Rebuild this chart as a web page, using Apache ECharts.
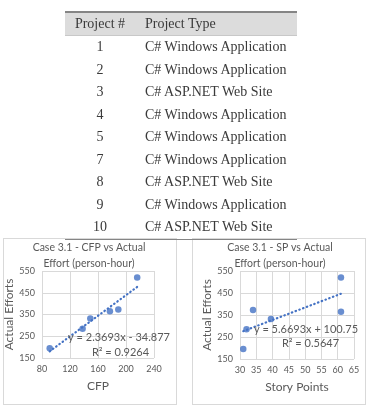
<!DOCTYPE html>
<html>
<head>
<meta charset="utf-8">
<script src="https://cdn.jsdelivr.net/npm/echarts@6/dist/echarts.min.js"></script>
<style>
  html, body { margin: 0; padding: 0; background: #fff; }
  #wrap { position: relative; width: 368px; height: 408px; overflow: hidden; }
  .box { position: absolute; top: 238px; height: 167px; border: 1px solid #d9d9d9; background: #fff; box-sizing: border-box; }
  #main { position: absolute; left: 0; top: 0; width: 368px; height: 408px; }
  #tbl { position: absolute; left: 65px; top: 11px; width: 232px; border-collapse: collapse;
         font-family: "Liberation Serif", serif; font-size: 14px; color: #3a3a3a; z-index: 2; }
  #tbl th { background: #dcdcdc; font-weight: normal; height: 22px; padding: 0; text-align: left;
            border-top: 2px solid #858585; border-bottom: 1px solid #c8c8c8; }
  #tbl td { height: 22.5px; padding: 0; }
  #tbl tr:last-child td { border-bottom: 1px solid #858585; }
  .c1 { width: 70px; text-align: center !important; }
  .c2 { padding-left: 10px !important; }
</style>
</head>
<body>
<div id="wrap">
  <div class="box" style="left:3px;width:174px;"></div>
  <div class="box" style="left:192px;width:174px;"></div>
  <div id="main"></div>
  <table id="tbl"><thead><tr><th class="c1">Project #</th><th class="c2">Project Type</th></tr></thead><tbody id="rows"></tbody></table>
</div>
<script>
// table data
const projectIds = [1, 2, 3, 4, 5, 7, 8, 9, 10];
const projectTypes = [
  'C# Windows Application', 'C# Windows Application', 'C# ASP.NET Web Site',
  'C# Windows Application', 'C# Windows Application', 'C# Windows Application',
  'C# ASP.NET Web Site', 'C# Windows Application', 'C# ASP.NET Web Site'
];

// scatter data
const cfp    = [91, 138, 149, 177, 189, 216];
const sp     = [31, 32, 39.5, 61, 34, 61];
const effort = [195, 285, 332, 365, 373, 520];

// trend lines as printed on the charts
const slope     = [2.3693, 5.6693];
const intercept = [-34.877, 100.75];
const rSquared  = ['0.9264', '0.5647'];

let rowsHtml = '';
projectIds.forEach((id, i) => {
  rowsHtml += '<tr><td class="c1">' + id + '</td><td class="c2">' + projectTypes[i] + '</td></tr>';
});
document.getElementById('rows').innerHTML = rowsHtml;

const blue = '#4472c4';
const grey = '#595959';
const font = 'Lato, "Open Sans", sans-serif';

function trend(xs, k) {
  const lo = Math.min(...xs), hi = Math.max(...xs);
  return [[lo, slope[k] * lo + intercept[k]], [hi, slope[k] * hi + intercept[k]]];
}
function eqText(k) {
  const b = intercept[k];
  return 'y = ' + slope[k] + 'x ' + (b < 0 ? '- ' : '+ ') + Math.abs(b);
}

function xAxisFor(idx, name, min, max, interval) {
  return {
    gridIndex: idx, type: 'value', min: min, max: max, interval: interval,
    name: name, nameLocation: 'middle', nameGap: 22,
    nameTextStyle: { color: grey, fontSize: 12, fontFamily: font },
    axisLine: { show: false }, axisTick: { show: false },
    axisLabel: { color: grey, fontSize: 9, fontFamily: font, margin: 7 },
    splitLine: { lineStyle: { color: '#d9d9d9', width: 1 } }
  };
}
function yAxisFor(idx, gap) {
  return {
    gridIndex: idx, type: 'value', min: 150, max: 550, interval: 100,
    name: 'Actual Efforts', nameLocation: 'middle', nameGap: gap,
    nameTextStyle: { color: grey, fontSize: 12, fontFamily: font },
    axisLine: { show: false }, axisTick: { show: false },
    axisLabel: { color: grey, fontSize: 9, fontFamily: font, margin: 7 },
    splitLine: { lineStyle: { color: '#d9d9d9', width: 1 } }
  };
}

function txt(x, y, s, size) {
  return { type: 'text', x: x, y: y, z: 10,
    style: { text: s, textAlign: 'center', textVerticalAlign: 'middle',
             font: size + 'px ' + font, fill: grey } };
}

const chart = echarts.init(document.getElementById('main'));
chart.setOption({
  animation: false,
  grid: [
    { left: 42, top: 271, width: 112, height: 87 },
    { left: 240, top: 271, width: 114, height: 88 }
  ],
  xAxis: [xAxisFor(0, 'CFP', 80, 240, 40), xAxisFor(1, 'Story Points', 30, 65, 5)],
  yAxis: [yAxisFor(0, 23), yAxisFor(1, 26)],
  series: [
    { type: 'scatter', xAxisIndex: 0, yAxisIndex: 0, symbolSize: 6.5,
      itemStyle: { color: blue }, data: cfp.map((v, i) => [v, effort[i]]) },
    { type: 'line', xAxisIndex: 0, yAxisIndex: 0, symbol: 'none', z: 3,
      lineStyle: { color: blue, width: 2.2, type: [0.5, 3.5], cap: 'round' },
      data: trend(cfp, 0) },
    { type: 'scatter', xAxisIndex: 1, yAxisIndex: 1, symbolSize: 6.5,
      itemStyle: { color: blue }, data: sp.map((v, i) => [v, effort[i]]) },
    { type: 'line', xAxisIndex: 1, yAxisIndex: 1, symbol: 'none', z: 3,
      lineStyle: { color: blue, width: 2.2, type: [0.5, 3.5], cap: 'round' },
      data: trend(sp, 1) }
  ],
  graphic: [
    txt(89, 248, 'Case 3.1 - CFP vs Actual', 10.5),
    txt(89, 264, 'Effort (person-hour)', 10.5),
    txt(280, 248, 'Case 3.1 - SP vs Actual', 10.5),
    txt(280, 264, 'Effort (person-hour)', 10.5),
    txt(119, 337.5, eqText(0), 11),
    txt(120.5, 352.5, 'R² = ' + rSquared[0], 11),
    txt(306, 329, eqText(1), 11),
    txt(310.5, 343.5, 'R² = ' + rSquared[1], 11)
  ]
});
</script>
</body>
</html>
